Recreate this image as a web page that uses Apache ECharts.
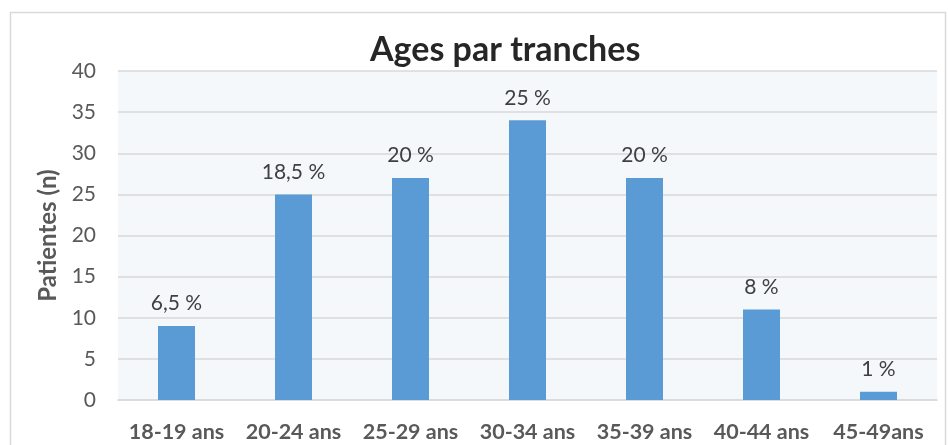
<!DOCTYPE html>
<html><head><meta charset="utf-8">
<script src="https://cdn.jsdelivr.net/npm/echarts@6/dist/echarts.min.js"></script>
<style>html,body{margin:0;padding:0;background:#fff}#c{width:948px;height:445px}</style>
</head><body><div id="c"></div>
<script>
const categories = ['18-19 ans','20-24 ans','25-29 ans','30-34 ans','35-39 ans','40-44 ans','45-49ans'];
const patientes = [9, 25, 27, 34, 27, 11, 1];
const pourcentages = ['6,5 %','18,5 %','20 %','25 %','20 %','8 %','1 %'];
const yTicks = [0,5,10,15,20,25,30,35,40];

const chart = echarts.init(document.getElementById('c'));
const F = 'Lato, "Liberation Sans", sans-serif';
chart.setOption({
  animation: false,
  graphic: [{type:'rect', shape:{x:10.5,y:12.5,width:935,height:440}, style:{fill:'none', stroke:'#d9d9d9', lineWidth:1.5}, z:-10}],
  title: {text:'Ages par tranches', left:365, top:28, itemGap:0,
    textStyle:{fontFamily:F, fontWeight:'bold', fontSize:34, color:'#262626'}},
  grid: {left:118, right:11, top:71, bottom:45, show:true, backgroundColor:'#F5F8FB', borderWidth:0},
  xAxis: {type:'category', data:categories,
    axisLine:{lineStyle:{color:'#d9d9d9', width:1.5}}, axisTick:{show:false},
    axisLabel:{fontFamily:F, fontWeight:'bold', fontSize:21.5, color:'#595959', margin:21, interval:0}},
  yAxis: {type:'value', min:0, max:40, interval:5,
    name:'Patientes (n)', nameLocation:'middle', nameGap:56, nameRotate:90,
    nameTextStyle:{fontFamily:F, fontWeight:'bold', fontSize:24, color:'#595959'},
    axisLabel:{fontFamily:F, fontSize:21, color:'#595959', margin:22,
      formatter: v => yTicks.includes(v) ? String(v) : ''},
    splitLine:{lineStyle:{color:'#d9d9d9', width:1.5}}, axisLine:{show:false}, axisTick:{show:false}},
  series: [{type:'bar', data:patientes, barWidth:37, itemStyle:{color:'#5B9BD5'},
    label:{show:true, position:'top', distance:12, fontFamily:F, fontSize:21, color:'#404040',
      formatter: p => pourcentages[p.dataIndex]}}]
});
</script></body></html>
